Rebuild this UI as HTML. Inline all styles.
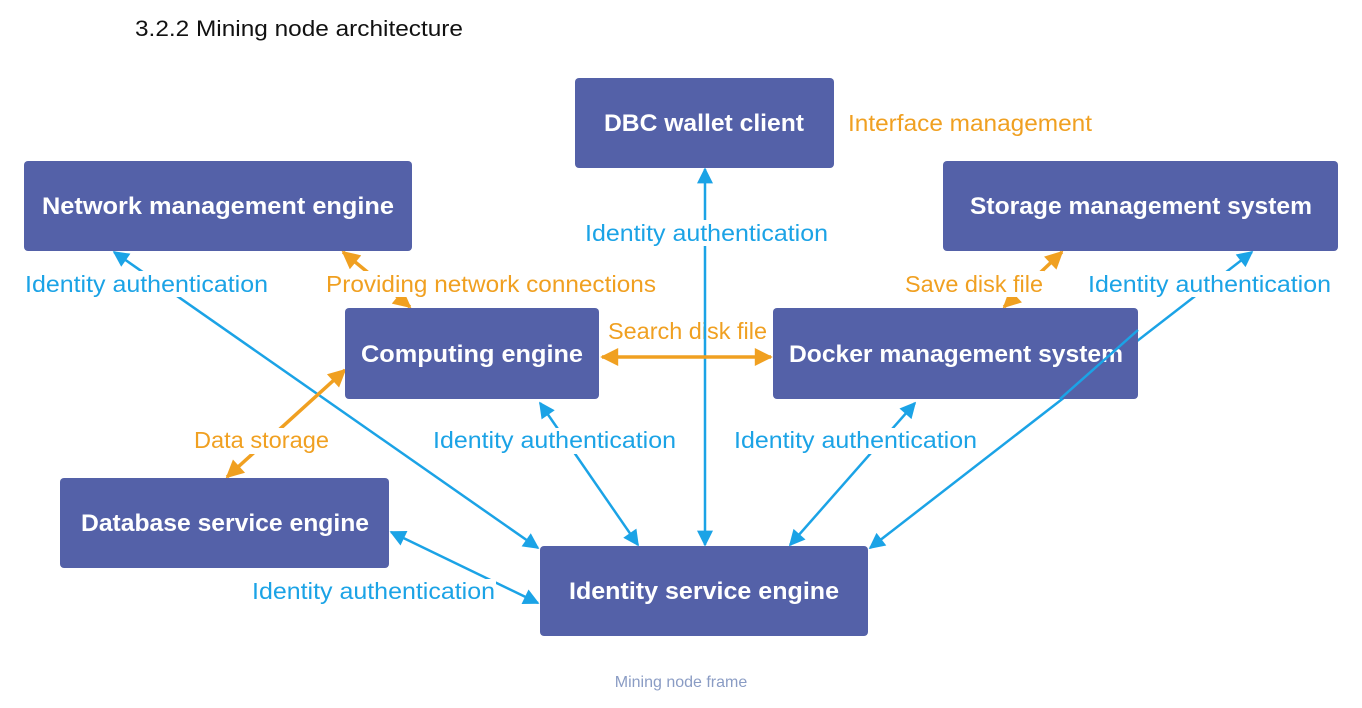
<!DOCTYPE html>
<html><head><meta charset="utf-8"><style>
html,body{margin:0;padding:0;background:#fff;}
svg{display:block;font-family:"Liberation Sans",sans-serif;}
.b{fill:#5461a8;}
.bt{fill:#fff;font-weight:bold;font-size:24px;text-anchor:middle;}
.lb{fill:#1ba3e6;font-size:23px;}
.lo{fill:#f0a021;font-size:23px;}
.bl{stroke:#1ba3e6;stroke-width:2.5;fill:none;}
.ol{stroke:#f0a021;stroke-width:3.5;fill:none;}
.bg{fill:#fff;}
</style></head><body>
<svg width="1362" height="708" viewBox="0 0 1362 708">
<defs>
<marker id="ab" viewBox="0 0 10 10" refX="9" refY="5" markerWidth="18" markerHeight="16" markerUnits="userSpaceOnUse" orient="auto-start-reverse"><path d="M0,0L10,5L0,10z" fill="#1ba3e6"/></marker>
<marker id="ao" viewBox="0 0 10 10" refX="9" refY="5" markerWidth="20" markerHeight="18" markerUnits="userSpaceOnUse" orient="auto-start-reverse"><path d="M0,0L10,5L0,10z" fill="#f0a021"/></marker>
</defs>
<style>.bl{marker-start:url(#ab);marker-end:url(#ab);} .ol{marker-start:url(#ao);marker-end:url(#ao);}</style>
<text x="135" y="36" font-size="22" fill="#111" textLength="328" lengthAdjust="spacingAndGlyphs">3.2.2 Mining node architecture</text>

<!-- connectors -->
<line class="bl" x1="114" y1="252" x2="538" y2="548"/>
<line class="bl" x1="540" y1="403" x2="638" y2="545"/>
<line class="bl" x1="705" y1="169" x2="705" y2="545"/>
<line class="bl" x1="915" y1="403" x2="790" y2="545"/>
<line class="bl" x1="1252" y1="252" x2="870" y2="548"/>
<line class="bl" x1="391" y1="532" x2="538" y2="603"/>
<line class="ol" x1="343" y1="252" x2="410" y2="307"/>
<line class="ol" x1="602" y1="357" x2="771" y2="357"/>
<line class="ol" x1="1062" y1="252" x2="1004" y2="307"/>
<line class="ol" x1="345" y1="370" x2="227" y2="477"/>

<!-- boxes -->
<rect class="b" x="575" y="78" width="259" height="90" rx="4"/>
<text class="bt" x="704" y="131" textLength="200" lengthAdjust="spacingAndGlyphs">DBC wallet client</text>
<rect class="b" x="24" y="161" width="388" height="90" rx="4"/>
<text class="bt" x="218" y="214" textLength="352" lengthAdjust="spacingAndGlyphs">Network management engine</text>
<rect class="b" x="943" y="161" width="395" height="90" rx="4"/>
<text class="bt" x="1141" y="214" textLength="342" lengthAdjust="spacingAndGlyphs">Storage management system</text>
<rect class="b" x="345" y="308" width="254" height="91" rx="4"/>
<text class="bt" x="472" y="362" textLength="222" lengthAdjust="spacingAndGlyphs">Computing engine</text>
<rect class="b" x="773" y="308" width="365" height="91" rx="4"/>
<text class="bt" x="956" y="362" textLength="334" lengthAdjust="spacingAndGlyphs">Docker management system</text>
<rect class="b" x="60" y="478" width="329" height="90" rx="4"/>
<text class="bt" x="225" y="531" textLength="288" lengthAdjust="spacingAndGlyphs">Database service engine</text>
<rect class="b" x="540" y="546" width="328" height="90" rx="4"/>
<text class="bt" x="704" y="599" textLength="270" lengthAdjust="spacingAndGlyphs">Identity service engine</text>
<line x1="1138" y1="330" x2="1060" y2="399" stroke="#1ba3e6" stroke-width="2.5"/>

<!-- labels -->
<text class="lo" x="848" y="131" textLength="244" lengthAdjust="spacingAndGlyphs">Interface management</text>
<rect class="bg" x="585" y="220" width="244" height="26"/>
<text class="lb" x="585" y="241" textLength="243" lengthAdjust="spacingAndGlyphs">Identity authentication</text>
<rect class="bg" x="25" y="271" width="244" height="26"/>
<text class="lb" x="25" y="292" textLength="243" lengthAdjust="spacingAndGlyphs">Identity authentication</text>
<rect class="bg" x="326" y="271" width="330" height="26"/>
<text class="lo" x="326" y="292" textLength="330" lengthAdjust="spacingAndGlyphs">Providing network connections</text>
<rect class="bg" x="905" y="271" width="139" height="26"/>
<text class="lo" x="905" y="292" textLength="138" lengthAdjust="spacingAndGlyphs">Save disk file</text>
<rect class="bg" x="1088" y="271" width="244" height="26"/>
<text class="lb" x="1088" y="292" textLength="243" lengthAdjust="spacingAndGlyphs">Identity authentication</text>
<rect class="bg" x="608" y="318" width="160" height="26"/>
<text class="lo" x="608" y="339" textLength="159" lengthAdjust="spacingAndGlyphs">Search disk file</text>
<rect class="bg" x="194" y="428" width="136" height="26"/>
<text class="lo" x="194" y="448" textLength="135" lengthAdjust="spacingAndGlyphs">Data storage</text>
<rect class="bg" x="433" y="428" width="244" height="26"/>
<text class="lb" x="433" y="448" textLength="243" lengthAdjust="spacingAndGlyphs">Identity authentication</text>
<rect class="bg" x="734" y="428" width="244" height="26"/>
<text class="lb" x="734" y="448" textLength="243" lengthAdjust="spacingAndGlyphs">Identity authentication</text>
<rect class="bg" x="252" y="579" width="244" height="26"/>
<text class="lb" x="252" y="599" textLength="243" lengthAdjust="spacingAndGlyphs">Identity authentication</text>
<line x1="705" y1="318" x2="705" y2="344" stroke="#1ba3e6" stroke-width="2.5"/>

<text x="681" y="687" font-size="16" fill="#8a9cc4" text-anchor="middle">Mining node frame</text>
</svg>
</body></html>
